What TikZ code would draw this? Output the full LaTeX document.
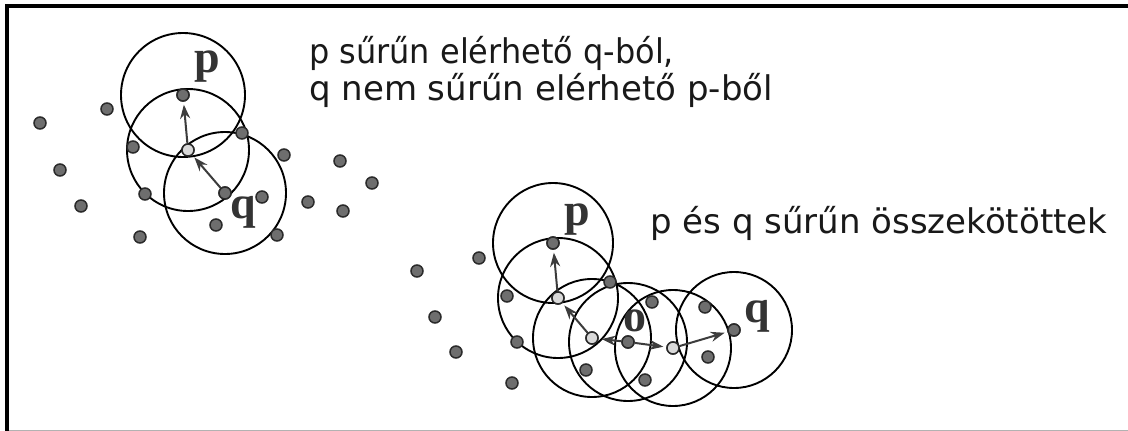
\documentclass[tikz,border=0pt]{standalone}
\usepackage{fontspec}
\setmainfont{DejaVu Sans}
\newfontfamily\lblfont{Liberation Serif}
\usetikzlibrary{arrows.meta}
\definecolor{dotfill}{HTML}{6E6E6E}
\definecolor{dotline}{HTML}{2A2A2A}
\definecolor{arrcol}{HTML}{3C3C3C}
\tikzset{
  dot/.style={circle,draw=dotline,fill=dotfill,line width=1.5pt,minimum size=12pt,inner sep=0pt},
  wdot/.style={circle,draw=dotline,fill=white!85!black,line width=1.5pt,minimum size=12pt,inner sep=0pt},
  ring/.style={draw=black,line width=1.9pt},
  arr/.style={draw=arrcol,line width=2pt,-{Stealth[length=14pt,width=10pt]},shorten >=3pt},
  lbl/.style={inner sep=0pt,anchor=base,font=\lblfont\bfseries\fontsize{46}{46}\selectfont,text=black!80},
  txt/.style={inner sep=0pt,anchor=base west,font=\fontsize{34}{34}\selectfont,text=black!90}
}
\begin{document}
\begin{tikzpicture}[x=1pt,y=-1pt]
\useasboundingbox (0,0) rectangle (1128,431);
\fill[white] (0,0) rectangle (1128,431);
% frame
\coordinate (ftl) at (7,6);
\coordinate (ftr) at (1128,6);
\coordinate (fbl) at (7,431);
\coordinate (gbl) at (9,430);
\coordinate (gbr) at (1128,430);
\draw[line width=4pt] (ftr) -- (ftl) -- (fbl);
\draw[black!30,line width=1pt] (gbl) -- (gbr);

% ---------- left cluster ----------
\node[dot] (lp) at (183,95) {};
\node[wdot] (lo) at (188,150) {};
\node[dot] (lq) at (225,193) {};
\draw[ring] (lp) circle (62);
\draw[ring] (lo) circle (61);
\draw[ring] (lq) circle (61);
\foreach \i/\x/\y in {1/40/123,2/107/109,3/60/170,4/81/206,5/133/147,6/145/194,7/140/237,
  8/242/133,9/262/197,10/216/225,11/277/235,12/284/155,13/308/202,14/340/161,15/343/211,16/372/183}
  {\node[dot] (l\i) at (\x,\y) {};}
\node[dot] at (lp) {};
\node[wdot] at (lo) {};
\node[dot] at (lq) {};
\draw[arr] (lq) -- (lo);
\draw[arr] (lo) -- (lp);
\node[lbl] (lplbl) at (207,72) {p};
\node[lbl] (lqlbl) at (243,218) {q};

% ---------- right cluster ----------
\node[dot] (rp) at (553,243) {};
\node[wdot] (ra) at (558,298) {};
\node[wdot] (rb) at (592,338) {};
\node[dot] (ro) at (628,342) {};
\node[wdot] (rc) at (673,348) {};
\node[dot] (rq) at (734,330) {};
\draw[ring] (rp) circle (60);
\draw[ring] (ra) circle (60);
\draw[ring] (rb) circle (59);
\draw[ring] (ro) circle (59);
\draw[ring] (rc) circle (58);
\draw[ring] (rq) circle (58);
\foreach \i/\x/\y in {1/417/271,2/479/258,3/435/317,4/456/352,5/512/383,6/507/296,7/517/342,
  8/610/282,9/586/370,10/652/302,11/645/380,12/705/307,13/708/357}
  {\node[dot] (r\i) at (\x,\y) {};}
\node[dot] at (rp) {};
\node[wdot] at (ra) {};
\node[wdot] at (rb) {};
\node[dot] at (ro) {};
\node[wdot] at (rc) {};
\node[dot] at (rq) {};
\draw[arr] (ra) -- (rp);
\draw[arr] (rb) -- (ra);
\draw[arr] (ro) -- (rb);
\draw[arr] (ro) -- (rc);
\draw[arr] (rc) -- (rq);
\node[lbl] (rplbl) at (577,225) {p};
\node[lbl] (rolbl) at (635,331) {o};
\node[lbl] (rqlbl) at (757,322) {q};

% ---------- texts ----------
\node[txt] (t1) at (309,63) {\scalebox{0.94}[1]{p sűrűn elérhető q-ból,}};
\node[txt] (t2) at (309,100) {q nem sűrűn elérhető p-ből};
\node[txt] (t3) at (650,233) {p és q sűrűn összekötöttek};
\end{tikzpicture}
\end{document}
